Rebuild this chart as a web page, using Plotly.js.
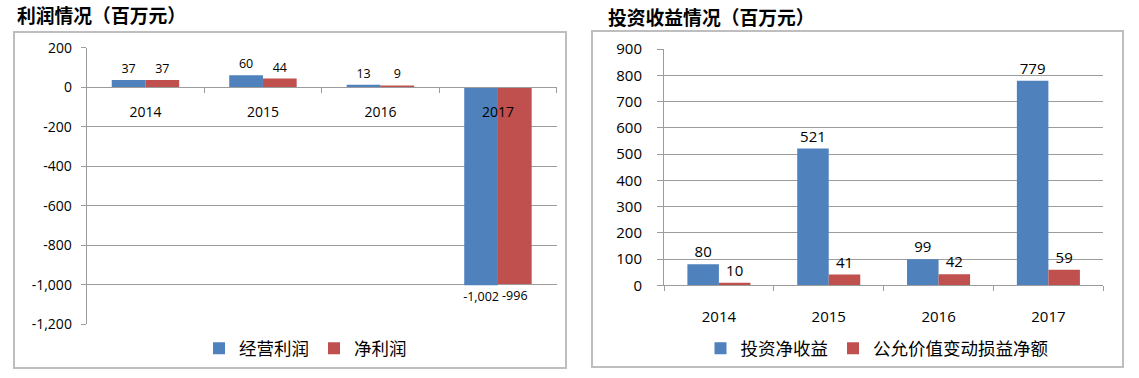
<!DOCTYPE html>
<html><head><meta charset="utf-8">
<script src="https://cdn.plot.ly/plotly-3.0.1.min.js"></script>
<style>html,body{margin:0;padding:0;background:#fff}#chart{width:1139px;height:378px}</style>
</head><body><div id="chart"></div>
<script>
// ---- data ----
const years = ['2014', '2015', '2016', '2017'];
const leftTitle = '利润情况（百万元）';
const rightTitle = '投资收益情况（百万元）';
const leftNames = ['经营利润', '净利润'];
const operatingProfit = [37, 60, 13, -1002];
const netProfit = [37, 44, 9, -996];
const rightNames = ['投资净收益', '公允价值变动损益净额'];
const investIncome = [80, 521, 99, 779];
const fairValueChange = [10, 41, 42, 59];
const leftTickVals = [-1200, -1000, -800, -600, -400, -200, 0, 200];
const rightTickVals = [0, 100, 200, 300, 400, 500, 600, 700, 800, 900];

// ---- helpers / styles ----
const W = 1139, H = 378;
const px = v => v / W;
const py = v => (H - v) / H;
const fmt = v => v.toLocaleString('en-US');
const BLUE = '#4F81BD', RED = '#C0504D';
const GRID = '#9C9C9C', BOX = '#BEBEBE';
const NUM_FONT = 'Open Sans, Noto Sans CJK SC, sans-serif';
const CJK_FONT = 'Noto Sans CJK SC, sans-serif';

function bar(x, y, name, color, xa, ya, leg, fs) {
  return {
    type: 'bar', x: x, y: y, name: name, xaxis: xa, yaxis: ya, legend: leg,
    marker: {color: color},
    text: y.map(fmt), textposition: 'outside', textangle: 0,
    constraintext: 'none', cliponaxis: false,
    textfont: {family: NUM_FONT, size: fs, color: '#000'},
    hoverinfo: 'skip'
  };
}

const data = [
  bar(years, operatingProfit, leftNames[0], BLUE, 'x', 'y', 'legend', 12.5),
  bar(years, netProfit, leftNames[1], RED, 'x', 'y', 'legend', 12.5),
  bar(years, investIncome, rightNames[0], BLUE, 'x2', 'y2', 'legend2', 15),
  bar(years, fairValueChange, rightNames[1], RED, 'x2', 'y2', 'legend2', 15)
];

// left plot area: x 86.7..556.7, y 47.7..324.3 ; right: x 664..1103.3, y 49..285.3
const lyBottom = py(324.3), lyTop = py(47.7);
const zeroPos = lyBottom + (0 - leftTickVals[0]) / (leftTickVals[leftTickVals.length - 1] - leftTickVals[0]) * (lyTop - lyBottom);

const layout = {
  width: W, height: H,
  margin: {l: 0, r: 0, t: 0, b: 0},
  paper_bgcolor: '#fff', plot_bgcolor: 'rgba(0,0,0,0)',
  font: {family: NUM_FONT, color: '#000'},
  barmode: 'group', bargap: 0.426, bargroupgap: 0,
  title: {
    text: '<b>' + leftTitle + '</b>', x: px(17), xanchor: 'left', xref: 'paper',
    y: 1 - 16.5 / H, yanchor: 'middle', yref: 'container',
    font: {family: CJK_FONT, size: 18.8, color: '#000'}
  },
  annotations: [{
    text: '<b>' + rightTitle + '</b>', xref: 'paper', yref: 'paper',
    x: px(606), xanchor: 'left', y: py(16.5), yanchor: 'middle', showarrow: false,
    font: {family: CJK_FONT, size: 18.8, color: '#000'}
  }],
  shapes: [
    {type: 'rect', xref: 'paper', yref: 'paper', x0: px(14), x1: px(566), y0: py(368), y1: py(32), line: {color: BOX, width: 2}, layer: 'below'},
    {type: 'rect', xref: 'paper', yref: 'paper', x0: px(592), x1: px(1123), y0: py(367), y1: py(31), line: {color: BOX, width: 2}, layer: 'below'}
  ],
  xaxis: {
    domain: [px(86.7), px(556.7)], anchor: 'free', position: zeroPos,
    type: 'category', showgrid: false, showline: true, linecolor: GRID, linewidth: 1,
    ticks: 'outside', tickson: 'boundaries', ticklen: 5, tickcolor: GRID,
    ticklabelstandoff: 12, tickfont: {family: NUM_FONT, size: 14, color: '#000'},
    zeroline: false, fixedrange: true
  },
  yaxis: {
    domain: [lyBottom, lyTop], anchor: 'x', range: [leftTickVals[0], leftTickVals[leftTickVals.length - 1]],
    tickmode: 'array', tickvals: leftTickVals, ticktext: leftTickVals.map(fmt),
    showgrid: true, gridcolor: GRID, gridwidth: 1, zeroline: false,
    showline: true, linecolor: GRID, linewidth: 1,
    ticks: 'outside', ticklen: 5, tickcolor: GRID, ticklabelstandoff: 6,
    tickfont: {family: NUM_FONT, size: 14, color: '#000'}, fixedrange: true
  },
  xaxis2: {
    domain: [px(664), px(1103.3)], anchor: 'y2',
    type: 'category', showgrid: false, showline: true, linecolor: GRID, linewidth: 1,
    ticks: 'outside', tickson: 'boundaries', ticklen: 5, tickcolor: GRID,
    ticklabelstandoff: 18, tickfont: {family: NUM_FONT, size: 15, color: '#000'},
    zeroline: false, fixedrange: true
  },
  yaxis2: {
    domain: [py(285.3), py(49)], anchor: 'x2', range: [rightTickVals[0], rightTickVals[rightTickVals.length - 1]],
    tickmode: 'array', tickvals: rightTickVals, ticktext: rightTickVals.map(fmt),
    showgrid: true, gridcolor: GRID, gridwidth: 1, zeroline: false,
    showline: true, linecolor: GRID, linewidth: 1,
    ticks: 'outside', ticklen: 6, tickcolor: GRID, ticklabelstandoff: 12,
    tickfont: {family: NUM_FONT, size: 15, color: '#000'}, fixedrange: true
  },
  legend: {
    orientation: 'h', x: px(305.5), xanchor: 'center', y: py(348.3), yanchor: 'middle',
    xref: 'paper', yref: 'paper', bgcolor: 'rgba(0,0,0,0)', itemwidth: 30,
    font: {family: CJK_FONT, size: 17.5, color: '#000'}, traceorder: 'normal'
  },
  legend2: {
    orientation: 'h', x: px(877), xanchor: 'center', y: py(348.3), yanchor: 'middle',
    xref: 'paper', yref: 'paper', bgcolor: 'rgba(0,0,0,0)', itemwidth: 30,
    font: {family: CJK_FONT, size: 17.5, color: '#000'}, traceorder: 'normal'
  },
  showlegend: true
};

Plotly.newPlot('chart', data, layout, {staticPlot: true, displayModeBar: false});
</script>
</body></html>
